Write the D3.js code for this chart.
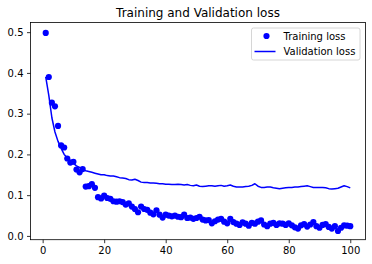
<!DOCTYPE html>
<html>
<head>
<meta charset="utf-8">
<script src="https://cdn.jsdelivr.net/npm/d3@7"></script>
<style>
  body { margin: 0; background: #fff; }
  svg { display: block; font-family: "DejaVu Sans", sans-serif; }
</style>
</head>
<body>
<div id="chart"></div>
<script>
// training loss per epoch (dots)
var trainLoss = [
  0.498, 0.390, 0.327, 0.318, 0.270, 0.222, 0.217, 0.190, 0.180, 0.182,
  0.163, 0.156, 0.164, 0.121, 0.122, 0.127, 0.118, 0.095, 0.092, 0.099,
  0.093, 0.091, 0.085, 0.084, 0.085, 0.083, 0.077, 0.080, 0.072, 0.066,
  0.058, 0.072, 0.066, 0.064, 0.057, 0.053, 0.063, 0.052, 0.045, 0.052,
  0.050, 0.048, 0.050, 0.047, 0.046, 0.052, 0.044, 0.045, 0.042, 0.044,
  0.047, 0.040, 0.038, 0.039, 0.031, 0.036, 0.040, 0.042, 0.035, 0.031,
  0.042, 0.034, 0.030, 0.027, 0.033, 0.030, 0.025, 0.032, 0.030, 0.035,
  0.038, 0.028, 0.024, 0.030, 0.032, 0.027, 0.031, 0.030, 0.027, 0.031,
  0.026, 0.021, 0.018, 0.026, 0.029, 0.023, 0.028, 0.034, 0.024, 0.020,
  0.027, 0.029, 0.022, 0.018, 0.024, 0.012, 0.020, 0.026, 0.025, 0.024
];
// validation loss per epoch (line)
var valLoss = [
  0.390, 0.345, 0.290, 0.255, 0.232, 0.215, 0.200, 0.192, 0.185, 0.178,
  0.172, 0.168, 0.163, 0.160, 0.158, 0.156, 0.154, 0.152, 0.150, 0.150,
  0.148, 0.147, 0.147, 0.145, 0.143, 0.142, 0.141, 0.138, 0.137, 0.139,
  0.136, 0.132, 0.131, 0.131, 0.130, 0.130, 0.129, 0.128, 0.128, 0.127,
  0.127, 0.126, 0.126, 0.127, 0.126, 0.125, 0.126, 0.124, 0.123, 0.125,
  0.122, 0.121, 0.122, 0.123, 0.123, 0.122, 0.123, 0.124, 0.122, 0.123,
  0.125, 0.122, 0.120, 0.120, 0.120, 0.121, 0.122, 0.124, 0.128, 0.122,
  0.119, 0.119, 0.120, 0.120, 0.118, 0.117, 0.116, 0.117, 0.118, 0.119,
  0.119, 0.120, 0.120, 0.121, 0.122, 0.123, 0.121, 0.119, 0.119, 0.119,
  0.119, 0.118, 0.116, 0.115, 0.116, 0.117, 0.120, 0.123, 0.121, 0.118
];
var epochs = d3.range(1, trainLoss.length + 1);
var xTicks = [0, 20, 40, 60, 80, 100];
var yTicks = [0.0, 0.1, 0.2, 0.3, 0.4, 0.5];
var seriesNames = ["Training loss", "Validation loss"];

var width = 372, height = 264;
var margin = {top: 22.5, right: 6.5, bottom: 24.3, left: 30.5};
var color = "#0000ff";

var svg = d3.select("#chart").append("svg")
    .attr("width", width)
    .attr("height", height);

var x = d3.scaleLinear()
    .domain([-3.95, 104.95])
    .range([margin.left, width - margin.right]);
var y = d3.scaleLinear()
    .domain([-0.0093, 0.5237])
    .range([height - margin.bottom, margin.top]);

// title
svg.append("text")
    .attr("x", (margin.left + width - margin.right) / 2)
    .attr("y", 16.5)
    .attr("text-anchor", "middle")
    .style("font-size", "12px")
    .text("Training and Validation loss");

// axes
var xAxis = svg.append("g")
    .attr("transform", "translate(0," + (height - margin.bottom) + ")")
    .call(d3.axisBottom(x).tickValues(xTicks).tickSize(3.5).tickPadding(3.5).tickFormat(d3.format("d")));
var yAxis = svg.append("g")
    .attr("transform", "translate(" + margin.left + ",0)")
    .call(d3.axisLeft(y).tickValues(yTicks).tickSize(3.5).tickPadding(3.5).tickFormat(d3.format(".1f")));

[xAxis, yAxis].forEach(function (g) {
    g.select(".domain").remove();
    g.selectAll("line").attr("stroke", "#000").attr("stroke-width", 0.8);
    g.selectAll("text").attr("fill", "#000").style("font-size", "10px").style("font-family", "DejaVu Sans, sans-serif");
});

// validation line
var line = d3.line()
    .x(function (d, i) { return x(epochs[i]); })
    .y(function (d) { return y(d); });

svg.append("path")
    .datum(valLoss)
    .attr("fill", "none")
    .attr("stroke", color)
    .attr("stroke-width", 1.5)
    .attr("stroke-linejoin", "round")
    .attr("d", line);

// training dots
svg.append("g")
    .selectAll("circle")
    .data(trainLoss)
    .enter()
    .append("circle")
    .attr("cx", function (d, i) { return x(epochs[i]); })
    .attr("cy", function (d) { return y(d); })
    .attr("r", 3.1)
    .attr("fill", color);

// frame
svg.append("rect")
    .attr("x", margin.left)
    .attr("y", margin.top)
    .attr("width", width - margin.left - margin.right)
    .attr("height", height - margin.top - margin.bottom)
    .attr("fill", "none")
    .attr("stroke", "#000")
    .attr("stroke-width", 0.8);

// legend
var legend = svg.append("g").attr("transform", "translate(251.5,28)");
legend.append("rect")
    .attr("width", 108.5)
    .attr("height", 32)
    .attr("rx", 2)
    .attr("fill", "#fff")
    .attr("fill-opacity", 0.8)
    .attr("stroke", "#cccccc")
    .attr("stroke-width", 0.8);
legend.append("circle")
    .attr("cx", 15)
    .attr("cy", 8)
    .attr("r", 3.1)
    .attr("fill", color);
legend.append("line")
    .attr("x1", 3).attr("x2", 24)
    .attr("y1", 23.5).attr("y2", 23.5)
    .attr("stroke", color)
    .attr("stroke-width", 1.5);
legend.selectAll("text")
    .data(seriesNames)
    .enter()
    .append("text")
    .attr("x", 32)
    .attr("y", function (d, i) { return 8 + i * 15.5; })
    .attr("dy", "0.35em")
    .style("font-size", "10px")
    .text(function (d) { return d; });
</script>
</body>
</html>
